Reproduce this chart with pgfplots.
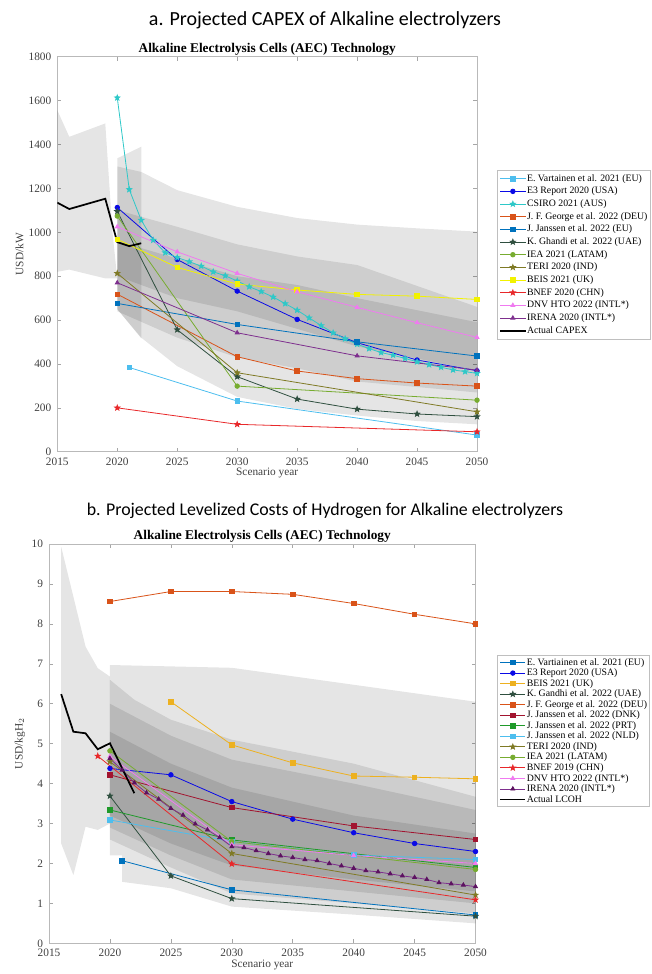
\documentclass[border=0pt]{standalone}
\usepackage{fontspec}
\setmainfont{Liberation Serif}
\newfontfamily\headfont{Carlito}
\usepackage{pgfplots}
\pgfplotsset{compat=1.18}

\definecolor{cLtBlue}{HTML}{4DBEEE}
\definecolor{cBlue}{HTML}{0A0AE6}
\definecolor{cCyan}{HTML}{2EC8C8}
\definecolor{cOrange}{HTML}{D95319}
\definecolor{cSteel}{HTML}{0072BD}
\definecolor{cDark}{HTML}{2F4F3F}
\definecolor{cLime}{HTML}{77AC30}
\definecolor{cOlive}{HTML}{7F7A25}
\definecolor{cYellow}{HTML}{F2F200}
\definecolor{cGold}{HTML}{EDB120}
\definecolor{cRed}{HTML}{E8282A}
\definecolor{cPink}{HTML}{F07AF0}
\definecolor{cPurple}{HTML}{7E2F8E}
\definecolor{cDkPurple}{HTML}{5C1260}
\definecolor{cWine}{HTML}{A2142F}
\definecolor{cGreen}{HTML}{1F9A2A}

% filled five-point star, like MATLAB's pentagram
\pgfdeclareplotmark{fstar}{%
  \pgfpathmoveto{\pgfpointpolar{90}{1.2\pgfplotmarksize}}%
  \pgfpathlineto{\pgfpointpolar{126}{0.5\pgfplotmarksize}}%
  \pgfpathlineto{\pgfpointpolar{162}{1.2\pgfplotmarksize}}%
  \pgfpathlineto{\pgfpointpolar{198}{0.5\pgfplotmarksize}}%
  \pgfpathlineto{\pgfpointpolar{234}{1.2\pgfplotmarksize}}%
  \pgfpathlineto{\pgfpointpolar{270}{0.5\pgfplotmarksize}}%
  \pgfpathlineto{\pgfpointpolar{306}{1.2\pgfplotmarksize}}%
  \pgfpathlineto{\pgfpointpolar{342}{0.5\pgfplotmarksize}}%
  \pgfpathlineto{\pgfpointpolar{18}{1.2\pgfplotmarksize}}%
  \pgfpathlineto{\pgfpointpolar{54}{0.5\pgfplotmarksize}}%
  \pgfpathclose\pgfusepathqfillstroke}

\pgfplotsset{
  aec/.style={
    scale only axis,
    xmin=2015, xmax=2050, xtick={2015,2020,...,2050},
    tick align=inside, tick pos=both, major tick length=3pt,
    axis line style={draw=gray!55},
    tick style={draw=gray!70, line width=0.4pt},
    /pgf/number format/assume math mode=true,
    /pgf/number format/1000 sep={},
    tick label style={font=\fontsize{8.5}{9}\selectfont, text=black!75},
    yticklabel style={xshift=-1pt},
    xticklabel style={yshift=-1pt},
    label style={font=\fontsize{8.5}{9}\selectfont, text=black!75},
    xlabel={Scenario year},
    xlabel style={yshift=5pt},
    title={Alkaline Electrolysis Cells (AEC) Technology},
    title style={font=\bfseries\fontsize{10}{11}\selectfont, yshift=-8.5pt},
    legend cell align=left,
    legend image code/.code={\draw[mark repeat=2,mark phase=2]
      plot coordinates {(0pt,0pt) (9.5pt,0pt) (19pt,0pt)};},
    every axis plot/.append style={line width=0.6pt, mark size=1.7pt},
  },
  band/.style={fill=black, fill opacity=0.1, draw=none, forget plot},
}

\begin{document}
\begin{tikzpicture}

\node[font=\headfont\fontsize{15}{17}\selectfont] at (243.75pt,-15.5pt)
  {a. Projected CAPEX of Alkaline electrolyzers};
\node[font=\headfont\fontsize{13.4}{15}\selectfont] at (243.75pt,-383pt)
  {b. Projected Levelized Costs of Hydrogen for Alkaline electrolyzers};

% ---------------- a. CAPEX ----------------
\begin{axis}[aec,
  at={(42.98pt,-338.8pt)}, anchor=south west,
  width=314.8pt, height=296.25pt,
  ymin=0, ymax=1800, ytick={0,200,...,1800},
  ylabel={USD/kW}, ylabel style={yshift=-3pt},
  legend style={at={(1.0477,0.713)}, anchor=north west,
    draw=gray!50, inner sep=1.5pt, row sep=0pt,
    nodes={inner sep=0.5pt, text height=6.2pt, text depth=2.3pt},
    font=\fontsize{7.35}{8}\selectfont},
]
\addplot[band] coordinates {(2015,1556) (2016,1435) (2019,1496) (2019.6,1000) (2020,790)
  (2019,790) (2016,830) (2015,820)} -- cycle;
\addplot[band] coordinates {(2020,1337) (2022,1390) (2022,517) (2020,650)} -- cycle;
\addplot[band] coordinates {(2020,1300) (2022,1275) (2025,1192) (2030,1116) (2035,1065)
  (2040,1035) (2045,1018) (2050,1003) (2050,125) (2045,140) (2040,165) (2035,195)
  (2030,250) (2025,390) (2022,520) (2020,650)} -- cycle;
\addplot[band] coordinates {(2020,1101) (2025,1025) (2030,945) (2035,890) (2040,851)
  (2050,660) (2050,370) (2040,480) (2035,560) (2030,640) (2025,700) (2020,800)} -- cycle;
\addplot[band] coordinates {(2020,960) (2025,880) (2030,800) (2035,760) (2040,700)
  (2050,590) (2050,270) (2040,320) (2035,380) (2030,430) (2025,520) (2020,640)} -- cycle;

\addplot[color=cLtBlue, mark=square*] coordinates {(2021,384) (2030,231) (2050,76)};
\addplot[color=cBlue, mark=*] coordinates {(2020,1113) (2025,876) (2030,732) (2035,603)
  (2040,497) (2045,418) (2050,369)};
\addplot[color=cCyan, mark=fstar] coordinates {(2020,1613) (2021,1195) (2022,1055)
  (2023,964) (2024,907) (2025,885) (2026,866) (2027,846) (2028,820) (2029,802)
  (2030,778) (2031,752) (2032,730) (2033,705) (2034,675) (2035,645) (2036,610)
  (2037,575) (2038,542) (2039,515) (2040,490) (2041,470) (2042,452) (2043,440)
  (2044,425) (2045,410) (2046,397) (2047,385) (2048,373) (2049,365) (2050,357)};
\addplot[color=cOrange, mark=square*] coordinates {(2020,718) (2030,433) (2035,368)
  (2040,333) (2045,313) (2050,299)};
\addplot[color=cSteel, mark=square*] coordinates {(2020,676) (2030,580) (2040,501) (2050,436)};
\addplot[color=cDark, mark=fstar] coordinates {(2020,1095) (2025,556) (2030,342) (2035,240)
  (2040,194) (2045,172) (2050,160)};
\addplot[color=cLime, mark=*] coordinates {(2020,1074) (2030,299) (2050,235)};
\addplot[color=cOlive, mark=fstar] coordinates {(2020,813) (2030,360) (2050,182)};
\addplot[color=cYellow, mark=square*] coordinates {(2020,968) (2025,840) (2030,764)
  (2035,737) (2040,717) (2045,709) (2050,694)};
\addplot[color=cRed, mark=fstar] coordinates {(2020,200) (2030,125) (2050,91)};
\addplot[color=cPink, mark=triangle*] coordinates {(2020,1025) (2025,911) (2030,813)
  (2035,729) (2040,658) (2045,588) (2050,521)};
\addplot[color=cPurple, mark=triangle*] coordinates {(2020,770) (2030,542) (2040,437) (2050,372)};
\addplot[color=black, line width=1.3pt, mark=none] coordinates {(2015,1135) (2016,1106)
  (2019,1153) (2020,955) (2021,937) (2022,950)};
\legend{E. Vartainen et al. 2021 (EU), E3 Report 2020 (USA), CSIRO 2021 (AUS),
  J. F. George et al. 2022 (DEU), J. Janssen et al. 2022 (EU), K. Ghandi et al. 2022 (UAE),
  IEA 2021 (LATAM), TERI 2020 (IND), BEIS 2021 (UK), BNEF 2020 (CHN),
  DNV HTO 2022 (INTL*), IRENA 2020 (INTL*), Actual CAPEX}
\end{axis}

% ---------------- b. LCOH ----------------
\begin{axis}[aec,
  at={(36.75pt,-707.5pt)}, anchor=south west,
  width=319.9pt, height=299.5pt,
  ymin=0, ymax=10, ytick={0,1,...,10},
  ylabel={USD/kgH$_2$}, ylabel style={yshift=-2pt},
  legend style={at={(1.0504,0.722)}, anchor=north west,
    draw=gray!50, inner sep=1.5pt, row sep=0pt,
    nodes={inner sep=0.3pt, text height=5.6pt, text depth=1.7pt},
    font=\fontsize{7.35}{8}\selectfont},
]
\addplot[band] coordinates {(2016,9.93) (2018,7.43) (2019,6.89) (2020,6.68)
  (2020,3.0) (2019,2.84) (2018,2.92) (2017,1.71) (2016,2.5)} -- cycle;
\addplot[band] coordinates {(2020,6.97) (2030,6.9) (2050,6.05) (2050,0.5) (2040,0.72)
  (2030,0.92) (2025,1.38) (2021,1.54) (2021,2.2) (2020,2.2)} -- cycle;
\addplot[band] coordinates {(2020,6.6) (2022,6.1) (2025,5.6) (2030,5.1) (2040,4.5)
  (2050,3.67) (2050,0.75) (2040,1.0) (2030,1.25) (2025,1.9) (2020,2.6)} -- cycle;
\addplot[band] coordinates {(2020,6.0) (2025,5.2) (2030,4.6) (2040,4.0) (2050,3.34)
  (2050,1.0) (2040,1.3) (2030,1.6) (2025,2.2) (2020,2.9)} -- cycle;
\addplot[band] coordinates {(2020,5.3) (2025,4.5) (2030,3.9) (2040,3.2) (2050,2.75)
  (2050,1.3) (2040,1.6) (2030,1.95) (2025,2.5) (2020,3.2)} -- cycle;

\addplot[color=cSteel, mark=square*] coordinates {(2021,2.07) (2030,1.34) (2050,0.71)};
\addplot[color=cBlue, mark=*] coordinates {(2020,4.38) (2025,4.22) (2030,3.55) (2035,3.11)
  (2040,2.77) (2045,2.50) (2050,2.30)};
\addplot[color=cGold, mark=square*] coordinates {(2025,6.05) (2030,4.97) (2035,4.52)
  (2040,4.19) (2045,4.16) (2050,4.12)};
\addplot[color=cDark, mark=fstar] coordinates {(2020,3.69) (2025,1.69) (2030,1.12) (2050,0.68)};
\addplot[color=cOrange, mark=square*] coordinates {(2020,8.56) (2025,8.81) (2030,8.81)
  (2035,8.74) (2040,8.51) (2045,8.24) (2050,8.00)};
\addplot[color=cWine, mark=square*] coordinates {(2020,4.22) (2030,3.40) (2040,2.94) (2050,2.60)};
\addplot[color=cGreen, mark=square*] coordinates {(2020,3.34) (2030,2.59) (2050,1.90)};
\addplot[color=cLtBlue, mark=square*] coordinates {(2020,3.09) (2030,2.55) (2040,2.21) (2050,2.10)};
\addplot[color=cOlive, mark=fstar] coordinates {(2020,4.55) (2030,2.25) (2050,1.21)};
\addplot[color=cLime, mark=*] coordinates {(2020,4.82) (2030,2.55) (2050,1.85)};
\addplot[color=cRed, mark=fstar] coordinates {(2019,4.69) (2030,1.99) (2050,1.09)};
\addplot[color=cPink, mark=triangle*] coordinates {(2020,4.68) (2030,2.47) (2040,2.2) (2050,2.00)};
\addplot[color=cPurple, mark=triangle*, mark options={fill=cDkPurple, draw=cDkPurple}]
  coordinates {(2020,4.63) (2021,4.34) (2022,4.02) (2023,3.77) (2024,3.61) (2025,3.38)
  (2026,3.21) (2027,2.99) (2028,2.84) (2029,2.65) (2030,2.42) (2031,2.40) (2032,2.32)
  (2033,2.25) (2034,2.19) (2035,2.15) (2036,2.10) (2037,2.07) (2038,2.00) (2039,1.94)
  (2040,1.88) (2041,1.82) (2042,1.79) (2043,1.74) (2044,1.69) (2045,1.65) (2046,1.60)
  (2047,1.52) (2048,1.49) (2049,1.46) (2050,1.42)};
\addplot[color=black, line width=1.3pt, mark=none] coordinates {(2016,6.24) (2017,5.30)
  (2018,5.26) (2019,4.86) (2020,5.01) (2022,3.76)};
\legend{E. Vartiainen et al. 2021 (EU), E3 Report 2020 (USA), BEIS 2021 (UK),
  K. Gandhi et al. 2022 (UAE), J. F. George et al. 2022 (DEU),
  J. Janssen et al. 2022 (DNK), J. Janssen et al. 2022 (PRT),
  J. Janssen et al. 2022 (NLD), TERI 2020 (IND), IEA 2021 (LATAM),
  BNEF 2019 (CHN), DNV HTO 2022 (INTL*), IRENA 2020 (INTL*), Actual LCOH}
\end{axis}

\pgfresetboundingbox
\path[use as bounding box] (0pt,0pt) rectangle (488.25pt,-730.5pt);
\end{tikzpicture}
\end{document}
